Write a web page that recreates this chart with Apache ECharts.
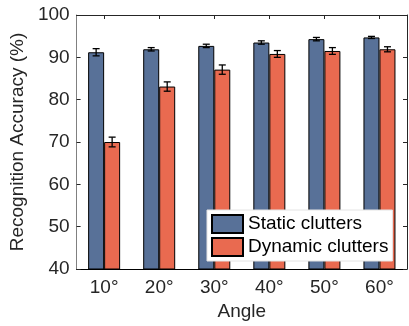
<!DOCTYPE html>
<html><head><meta charset="utf-8">
<script src="https://cdn.jsdelivr.net/npm/echarts@6/dist/echarts.min.js"></script>
<style>html,body{margin:0;padding:0;background:#fff}#c{width:409px;height:326px}</style>
</head><body><div id="c"></div>
<script>
const categories = ['10°', '20°', '30°', '40°', '50°', '60°'];
const staticVals = [91.2, 91.9, 92.7, 93.5, 94.3, 94.7];
const staticErr = [0.85, 0.4, 0.4, 0.4, 0.4, 0.25];
const dynamicVals = [70.0, 83.1, 87.1, 90.8, 91.5, 91.9];
const dynamicErr = [1.15, 1.1, 1.1, 0.8, 0.8, 0.6];
const yMin = 40, yMax = 100, yStep = 10;
const seriesNames = ['Static clutters', 'Dynamic clutters'];

const FONT = "'Liberation Sans', Arial, sans-serif";
const BAR_W = 16;
const blue = '#587198', red = '#E96A50';

function errData(vals, errs) {
  return vals.map((v, i) => [i, v, errs[i]]);
}
function makeErr(side) {
  return function (params, api) {
    const idx = api.value(0), v = api.value(1), e = api.value(2);
    const hi = api.coord([idx, v + e]);
    const lo = api.coord([idx, v - e]);
    const x = hi[0] + side * BAR_W / 2;
    const cap = 3.5;
    const st = { stroke: '#000', lineWidth: 1.3 };
    return {
      type: 'group',
      children: [
        { type: 'line', shape: { x1: x, y1: hi[1], x2: x, y2: lo[1] }, style: st },
        { type: 'line', shape: { x1: x - cap, y1: hi[1], x2: x + cap, y2: hi[1] }, style: st },
        { type: 'line', shape: { x1: x - cap, y1: lo[1], x2: x + cap, y2: lo[1] }, style: st }
      ]
    };
  };
}

const chart = echarts.init(document.getElementById('c'), null, { renderer: 'canvas' });
chart.setOption({
  animation: false,
  backgroundColor: '#fff',
  textStyle: { fontFamily: FONT },
  grid: { left: 72, right: 2, top: 15, bottom: 54, containLabel: false },
  legend: {
    data: seriesNames,
    icon: 'rect',
    orient: 'vertical',
    left: 207, top: 210,
    itemWidth: 31, itemHeight: 18, itemGap: 3,
    padding: [4, 4, 4, 4],
    backgroundColor: '#fff',
    borderColor: '#e4e4e4', borderWidth: 1,
    textStyle: { fontSize: 19, color: '#000', fontFamily: FONT }
  },
  xAxis: [{
    type: 'category', data: categories, position: 'bottom',
    axisLine: { lineStyle: { color: '#000', width: 1 } },
    axisTick: { inside: true, alignWithLabel: true, length: 4, lineStyle: { color: '#262626' } },
    axisLabel: { fontSize: 19, color: '#262626', margin: 9, fontFamily: FONT },
    name: 'Angle', nameLocation: 'middle', nameGap: 33,
    nameTextStyle: { fontSize: 19, color: '#262626', fontFamily: FONT }
  }, {
    type: 'category', data: categories, position: 'top',
    axisLine: { show: true, lineStyle: { color: '#262626', width: 1 } },
    axisTick: { show: true, inside: true, alignWithLabel: true, length: 4, lineStyle: { color: '#262626' } },
    axisLabel: { show: false }
  }],
  yAxis: [{
    type: 'value', min: yMin, max: yMax, interval: yStep, position: 'left',
    axisLine: { show: true, lineStyle: { color: '#808080', width: 1 } },
    axisTick: { show: true, inside: true, length: 4, lineStyle: { color: '#262626' } },
    splitLine: { show: false },
    axisLabel: { fontSize: 19, color: '#262626', margin: 7, fontFamily: FONT },
    name: 'Recognition Accuracy (%)', nameLocation: 'middle', nameGap: 43,
    nameTextStyle: { fontSize: 19, color: '#262626', fontFamily: FONT }
  }, {
    type: 'value', min: yMin, max: yMax, interval: yStep, position: 'right',
    axisLine: { show: true, lineStyle: { color: '#262626', width: 1 } },
    axisTick: { show: true, inside: true, length: 4, lineStyle: { color: '#262626' } },
    splitLine: { show: false },
    axisLabel: { show: false }
  }],
  series: [{
    name: seriesNames[0], type: 'bar', data: staticVals, barWidth: BAR_W, barGap: '0%',
    itemStyle: { color: blue, borderColor: '#000', borderWidth: 1 }
  }, {
    name: seriesNames[1], type: 'bar', data: dynamicVals, barWidth: BAR_W, barGap: '0%',
    itemStyle: { color: red, borderColor: '#000', borderWidth: 1 }
  }, {
    type: 'custom', name: 'errS', renderItem: makeErr(-1), data: errData(staticVals, staticErr), z: 5
  }, {
    type: 'custom', name: 'errD', renderItem: makeErr(1), data: errData(dynamicVals, dynamicErr), z: 5
  }]
});
</script>
</body></html>
